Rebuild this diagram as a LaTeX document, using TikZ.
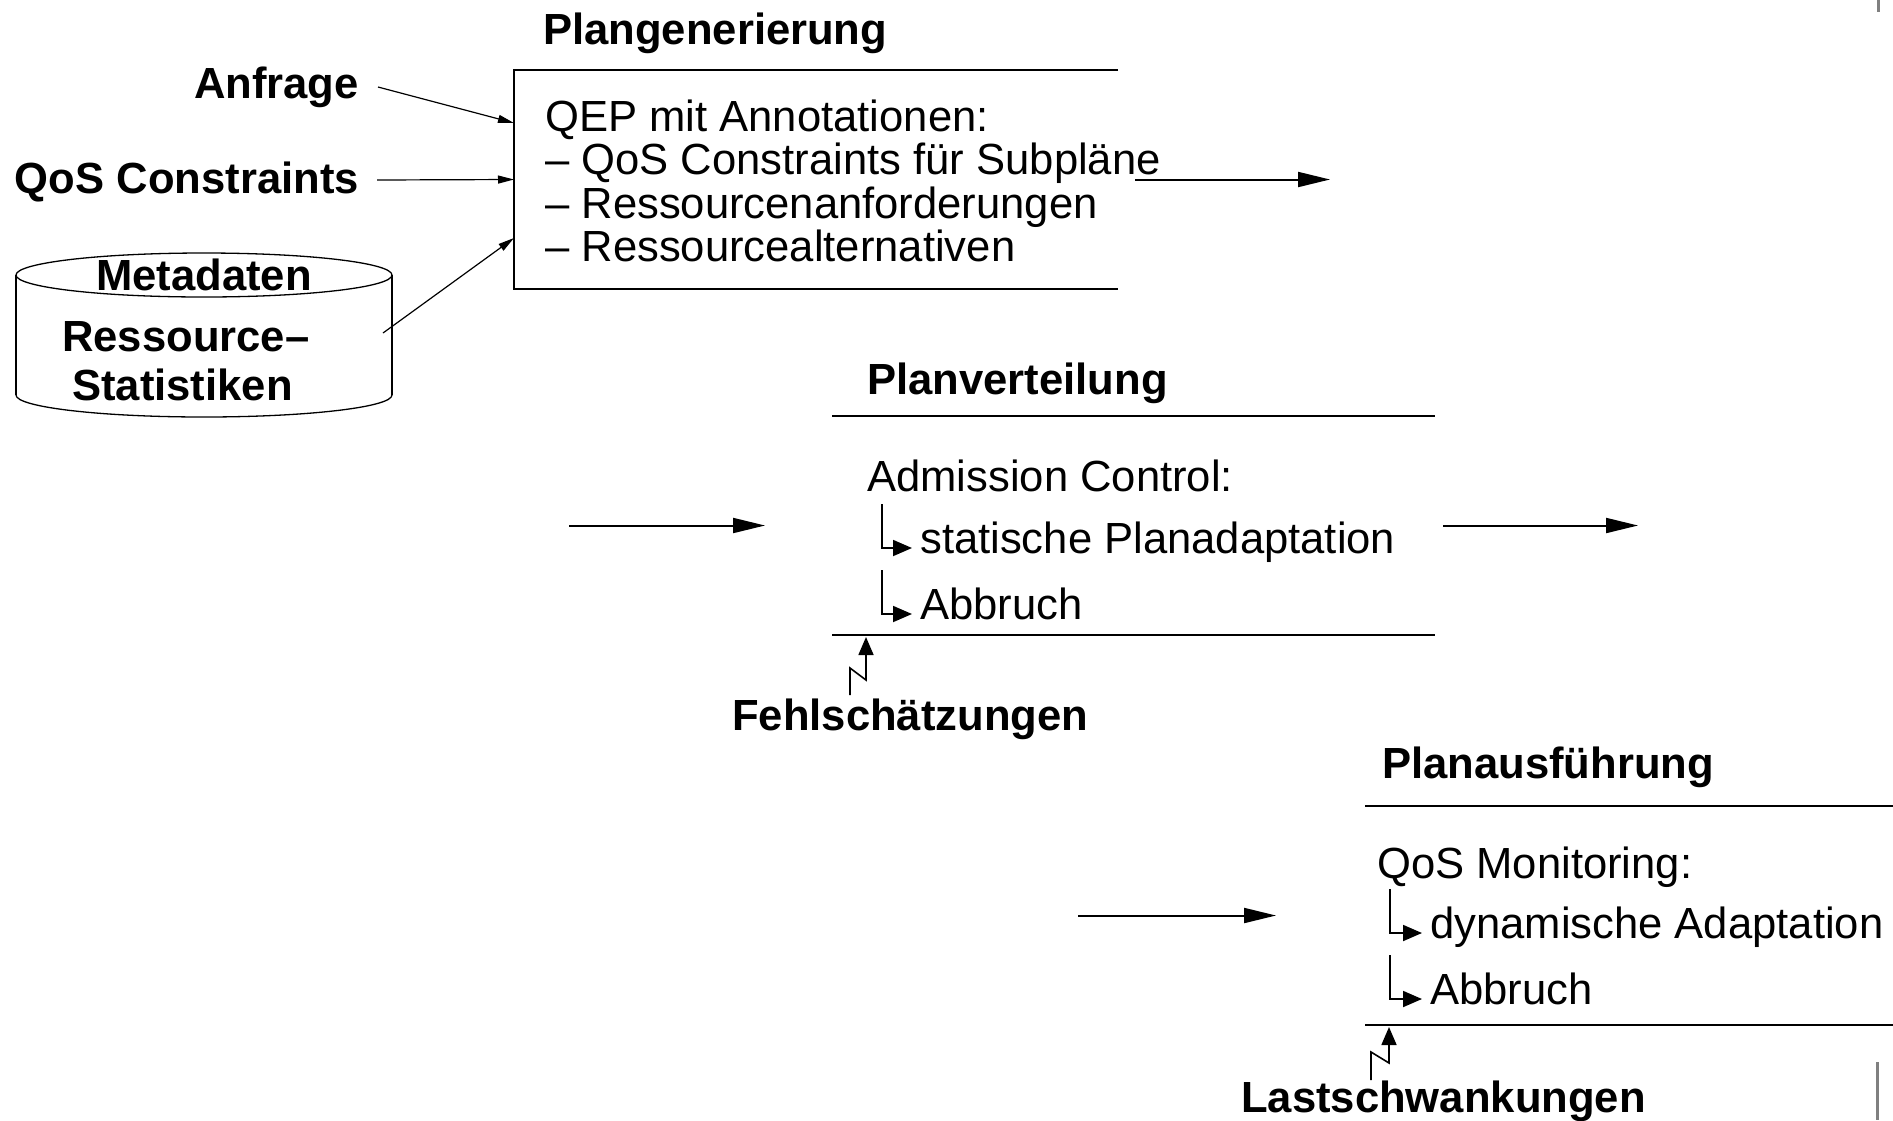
\documentclass[tikz,border=0pt]{standalone}
\usepackage{fontspec}
\setmainfont{Liberation Sans}
\usetikzlibrary{arrows.meta}
\begin{document}
\begin{tikzpicture}[x=1pt,y=-1pt,
  txt/.style={anchor=base west, inner sep=0pt, font=\fontsize{43.6}{43.6}\selectfont},
  head/.style={anchor=base west, inner sep=0pt, font=\fontsize{43.6}{43.6}\selectfont\bfseries},
  area/.style={draw=none, inner sep=0pt, outer sep=0pt},
  frame/.style={line width=2.4pt},
  flow/.style={line width=2pt, -{Triangle[length=32pt,width=15pt]}},
  feed/.style={line width=1.2pt, -{Triangle[length=16pt,width=8pt]}},
  branch/.style={line width=1.8pt, -{Triangle[length=19pt,width=16pt]}},
  bolt/.style={line width=1.6pt, -{Triangle[length=18pt,width=15pt]}},
  store/.style={line width=1.3pt},
  edge/.style={gray, line width=3pt}]
\useasboundingbox (0,0) rectangle (1893,1120);

% ---- stage 1: plan generation ----
\node[head] (genT) at (543,44) {Plangenerierung};
\node[area, minimum width=604pt, minimum height=219pt] (gen) at (816,179.5) {};
\draw[frame] (gen.north east) -- (gen.north west) -- (gen.south west) -- (gen.south east);
\node[txt] (g1) at (545,131)   {QEP mit Annotationen:};
\node[txt] (g2) at (545,174.5) {– QoS Constraints für Subpläne};
\node[txt] (g3) at (545,218)   {– Ressourcenanforderungen};
\node[txt] (g4) at (545,261.5) {– Ressourcealternativen};

\node[head, anchor=base east] (anfrage) at (359,98) {Anfrage};
\node[head, anchor=base east] (qos) at (359,193) {QoS Constraints};

% metadata store
\node[area, minimum width=376pt, minimum height=120pt] (meta) at (204,335) {};
\draw[store] (meta.north west) -- (meta.south west);
\draw[store] (meta.north east) -- (meta.south east);
\draw[store] (meta.north) ellipse [x radius=188pt, y radius=22pt];
\begin{scope}
  \clip ([xshift=-5pt]meta.south west) rectangle ([xshift=5pt,yshift=-40pt]meta.south east);
  \draw[store] (meta.south) ellipse [x radius=188pt, y radius=22pt];
\end{scope}
\node[head, anchor=base] (metaT) at (204,290) {Metadaten};
\node[head] (res1) at (62,351) {Ressource–};
\node[head] (res2) at (72,400) {Statistiken};

\draw[feed] ([shift={(19pt,11pt)}]anfrage.base east) -- ([yshift=-53pt]gen.north west);
\draw[feed] ([shift={(18pt,13pt)}]qos.base east) -- (gen.west);
\draw[feed] ([shift={(-9pt,2pt)}]meta.east) -- ([yshift=-58.5pt]gen.west);

\draw[flow] ([xshift=17pt]gen.east) -- ([xshift=212pt]gen.east);

% ---- stage 2: plan distribution ----
\node[head] (vertT) at (867,394) {Planverteilung};
\node[area, minimum width=603pt, minimum height=219pt] (vert) at (1133.5,525.5) {};
\draw[frame] (vert.north west) -- (vert.north east);
\draw[frame] (vert.south west) -- (vert.south east);
\node[txt] (adm) at (867,491) {Admission Control:};
\node[txt] (stat) at (920,553) {statische Planadaptation};
\node[txt] (abb1) at (920,619) {Abbruch};
\draw[branch] ([shift={(-38pt,49pt)}]stat.base west) |- ([shift={(-8pt,5pt)}]stat.base west);
\draw[branch] ([shift={(-38pt,49pt)}]abb1.base west) |- ([shift={(-8pt,5pt)}]abb1.base west);

\draw[flow] ([xshift=-263pt]vert.west) -- ([xshift=-67pt]vert.west);
\draw[flow] ([xshift=8pt]vert.east) -- ([xshift=203pt]vert.east);

\node[head] (fehl) at (732,730) {Fehlschätzungen};
\draw[bolt] ([shift={(118pt,35pt)}]fehl.base west) -- ++(0,-27) -- ++(16,12)
  -- ([xshift=34pt,yshift=-2pt]vert.south west);

% ---- stage 3: plan execution ----
\node[head] (ausfT) at (1382,778) {Planausführung};
\node[area, minimum width=528pt, minimum height=219pt] (ausf) at (1629,915.5) {};
\draw[frame] (ausf.north west) -- (ausf.north east);
\draw[frame] (ausf.south west) -- (ausf.south east);
\node[txt] (mon) at (1377,878) {QoS Monitoring:};
\node[txt] (dyn) at (1430,938) {dynamische Adaptation};
\node[txt] (abb2) at (1430,1004) {Abbruch};
\draw[branch] ([shift={(-40pt,49pt)}]dyn.base west) |- ([shift={(-8pt,5pt)}]dyn.base west);
\draw[branch] ([shift={(-40pt,49pt)}]abb2.base west) |- ([shift={(-8pt,5pt)}]abb2.base west);

\draw[flow] ([xshift=-287pt]ausf.west) -- ([xshift=-89pt]ausf.west);

\node[head] (last) at (1241,1112) {Lastschwankungen};
\draw[bolt] ([shift={(130pt,32pt)}]last.base west) -- ++(0,-28) -- ++(18,11)
  -- ([xshift=24pt,yshift=-2pt]ausf.south west);

% page edge marks
\draw[edge] (1878,0) -- (1878,12);
\draw[edge] (1877,1062) -- (1877,1120);
\end{tikzpicture}
\end{document}
